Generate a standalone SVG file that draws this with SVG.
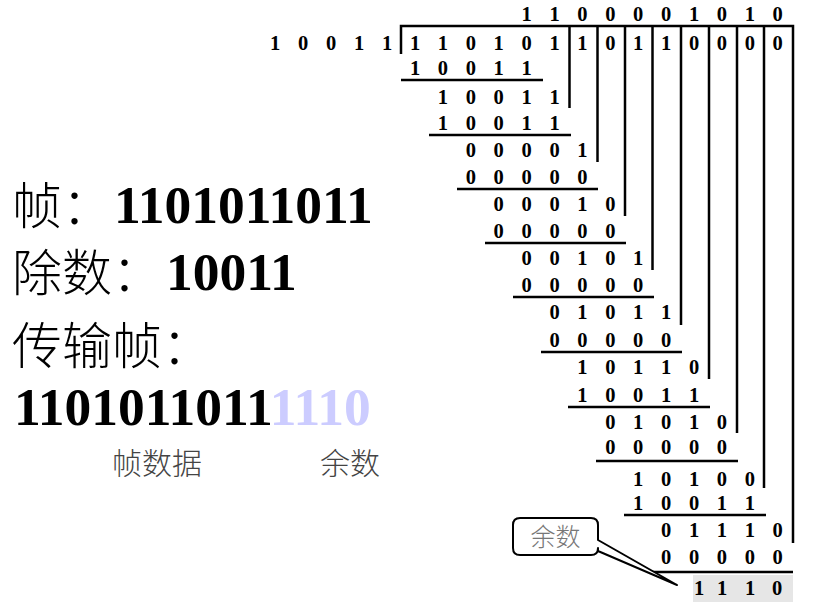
<svg xmlns="http://www.w3.org/2000/svg" width="821" height="609" viewBox="0 0 821 609">
<style>
.d{font-family:"Liberation Serif","Times New Roman",serif;font-weight:bold;font-size:20.5px;text-anchor:middle;fill:#000}
.ln{stroke:#000;stroke-width:2.5;fill:none}
.cjk{font-family:"Noto Sans CJK SC","Noto Sans",sans-serif;font-weight:300;font-size:50px;fill:#000}
.big{font-family:"Liberation Serif","Times New Roman",serif;font-weight:bold;font-size:53.5px;fill:#000}
.lbl{font-family:"Noto Sans CJK SC","Noto Sans",sans-serif;font-weight:300;font-size:30px;fill:#444}
</style>
<rect width="821" height="609" fill="#fff"/>

<g id="left-text">
  <text class="cjk" x="12" y="224">帧：</text>
  <text class="big" x="114" y="223">1101011011</text>
  <text class="cjk" x="12" y="291">除数：</text>
  <text class="big" x="166" y="290" font-size="49.5">10011</text>
  <text class="cjk" x="12" y="364">传输帧：</text>
  <text class="big" x="14" y="425">1101011011<tspan fill="#ccccff">1110</tspan></text>
  <text class="lbl" x="112" y="474">帧数据</text>
  <text class="lbl" x="320" y="474">余数</text>
</g>

<g id="division">
  <rect x="693" y="575" width="100" height="27" fill="#e6e6e6"/>
  <g id="lines">
    <polyline class="ln" points="401,54 401,26 793,26 793,543"/>
    <line class="ln" x1="569.5" y1="26" x2="569.5" y2="108"/>
    <line class="ln" x1="597.5" y1="26" x2="597.5" y2="162"/>
    <line class="ln" x1="625" y1="26" x2="625" y2="216"/>
    <line class="ln" x1="652.5" y1="26" x2="652.5" y2="270" stroke-width="4"/>
    <line class="ln" x1="681" y1="26" x2="681" y2="325"/>
    <line class="ln" x1="709" y1="26" x2="709" y2="379"/>
    <line class="ln" x1="737" y1="26" x2="737" y2="433"/>
    <line class="ln" x1="764" y1="26" x2="764" y2="488"/>
    <line class="ln" x1="401" y1="80" x2="543" y2="80"/>
    <line class="ln" x1="429" y1="135" x2="571" y2="135"/>
    <line class="ln" x1="457" y1="189" x2="598" y2="189"/>
    <line class="ln" x1="485" y1="243" x2="626" y2="243"/>
    <line class="ln" x1="513" y1="297" x2="654" y2="297"/>
    <line class="ln" x1="541" y1="352" x2="682" y2="352"/>
    <line class="ln" x1="568" y1="407" x2="710" y2="407"/>
    <line class="ln" x1="596" y1="461" x2="738" y2="461"/>
    <line class="ln" x1="624" y1="515" x2="766" y2="515"/>
    <line class="ln" x1="652" y1="572" x2="793" y2="572"/>
  </g>
  <g id="digits">
    <text class="d" x="526.6 540.6 554.5 568.5 582.4 596.4 610.3 624.3 638.2 652.2 666.1 680.1 694 708 721.9 735.9 749.8 763.8 777.7" y="21">1 1 0 0 0 0 1 0 1 0</text>
    <text class="d" x="275 289 303 317 331 345 359 373 387" y="50">1 0 0 1 1</text>
    <text class="d" x="415 429 442.9 456.9 470.8 484.8 498.7 512.7 526.6 540.6 554.5 568.5 582.4 596.4 610.3 624.3 638.2 652.2 666.1 680.1 694 708 721.9 735.9 749.8 763.8 777.7" y="50">1 1 0 1 0 1 1 0 1 1 0 0 0 0</text>
    <text class="d" x="415 429 442.9 456.9 470.8 484.8 498.7 512.7 526.6" y="75">1 0 0 1 1</text>
    <text class="d" x="442.9 456.9 470.8 484.8 498.7 512.7 526.6 540.6 554.5" y="104">1 0 0 1 1</text>
    <text class="d" x="442.9 456.9 470.8 484.8 498.7 512.7 526.6 540.6 554.5" y="130">1 0 0 1 1</text>
    <text class="d" x="470.8 484.8 498.7 512.7 526.6 540.6 554.5 568.5 582.4" y="157">0 0 0 0 1</text>
    <text class="d" x="470.8 484.8 498.7 512.7 526.6 540.6 554.5 568.5 582.4" y="184">0 0 0 0 0</text>
    <text class="d" x="498.7 512.7 526.6 540.6 554.5 568.5 582.4 596.4 610.3" y="211">0 0 0 1 0</text>
    <text class="d" x="498.7 512.7 526.6 540.6 554.5 568.5 582.4 596.4 610.3" y="238">0 0 0 0 0</text>
    <text class="d" x="526.6 540.6 554.5 568.5 582.4 596.4 610.3 624.3 638.2" y="265">0 0 1 0 1</text>
    <text class="d" x="526.6 540.6 554.5 568.5 582.4 596.4 610.3 624.3 638.2" y="292">0 0 0 0 0</text>
    <text class="d" x="554.5 568.5 582.4 596.4 610.3 624.3 638.2 652.2 666.1" y="319">0 1 0 1 1</text>
    <text class="d" x="554.5 568.5 582.4 596.4 610.3 624.3 638.2 652.2 666.1" y="347">0 0 0 0 0</text>
    <text class="d" x="582.4 596.4 610.3 624.3 638.2 652.2 666.1 680.1 694" y="374">1 0 1 1 0</text>
    <text class="d" x="582.4 596.4 610.3 624.3 638.2 652.2 666.1 680.1 694" y="402">1 0 0 1 1</text>
    <text class="d" x="610.3 624.3 638.2 652.2 666.1 680.1 694 708 721.9" y="429">0 1 0 1 0</text>
    <text class="d" x="610.3 624.3 638.2 652.2 666.1 680.1 694 708 721.9" y="454">0 0 0 0 0</text>
    <text class="d" x="638.2 652.2 666.1 680.1 694 708 721.9 735.9 749.8" y="486">1 0 1 0 0</text>
    <text class="d" x="638.2 652.2 666.1 680.1 694 708 721.9 735.9 749.8" y="510">1 0 0 1 1</text>
    <text class="d" x="666.1 680.1 694 708 721.9 735.9 749.8 763.8 777.7" y="537">0 1 1 1 0</text>
    <text class="d" x="666.1 680.1 694 708 721.9 735.9 749.8 763.8 777.7" y="564">0 0 0 0 0</text>
    <text class="d" x="699 710 722 736 750 763 777" y="595">1 1 1 0</text>
  </g>
</g>

<g id="callout">
  <path d="M520,518 H591 Q598,518 598,525 V540 L677,585 L598,551 V548 Q598,555 591,555 H520 Q513,555 513,548 V525 Q513,518 520,518 Z" fill="#fff" stroke="#000" stroke-width="2" stroke-linejoin="round"/>
  <text x="555.5" y="546" font-family="Noto Sans CJK SC, Noto Sans, sans-serif" font-weight="300" font-size="25" fill="#777" text-anchor="middle">余数</text>
</g>
</svg>
